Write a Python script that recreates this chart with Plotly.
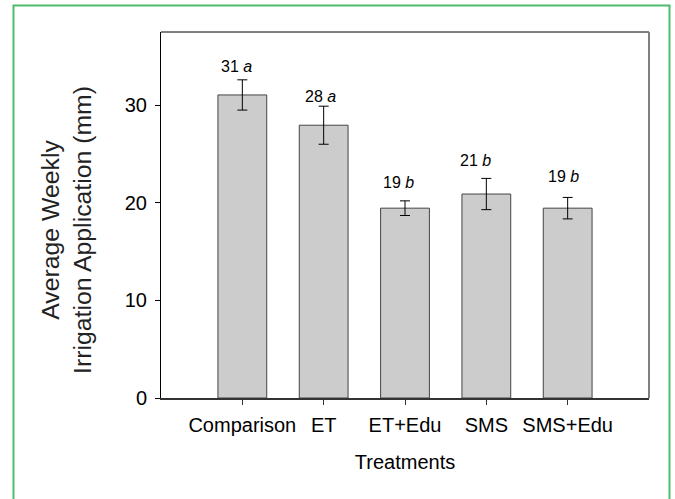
import plotly.graph_objects as go

# ---- data ----
treatments = ["Comparison", "ET", "ET+Edu", "SMS", "SMS+Edu"]
means = [31.05, 27.95, 19.45, 20.9, 19.45]
errors = [1.55, 1.95, 0.75, 1.6, 1.1]
letters = ["a", "a", "b", "b", "b"]
label_y = [34.0, 30.85, 22.07, 24.33, 22.67]
label_dx = [-6, -3, -7, -11, -4]
y_ticks = [0, 10, 20, 30]

W, H = 675, 499
L, R, T, B = 161, 26, 32, 101
pw = W - L - R
ph = H - T - B

FONT = "Liberation Sans, Arial, sans-serif"

fig = go.Figure()
fig.add_trace(go.Bar(
    x=list(range(len(treatments))),
    y=means,
    width=0.6,
    marker=dict(color="#cccccc", line=dict(color="#444444", width=1)),
    error_y=dict(type="data", array=errors, visible=True,
                 color="black", thickness=1, width=5),
    showlegend=False,
))

for i, (m, lt, ly, dx) in enumerate(zip(means, letters, label_y, label_dx)):
    fig.add_annotation(x=i, y=ly, xref="x", yref="y",
                       text=f"{round(m)} <i>{lt}</i>", showarrow=False,
                       xshift=dx, font=dict(family=FONT, size=16, color="black"))

def px_x(p):
    return (p - L) / pw

def px_y(p):
    return (H - B - p) / ph

# green outer border
fig.add_shape(type="rect", xref="paper", yref="paper",
              x0=px_x(13.5), x1=px_x(669.5), y0=px_y(512), y1=px_y(5.5),
              line=dict(color="#4cbb6c", width=2), fillcolor="rgba(0,0,0,0)",
              layer="below")
# top and right frame lines
fig.add_shape(type="line", xref="paper", yref="paper", x0=0, x1=1, y0=1, y1=1,
              line=dict(color="black", width=1))
fig.add_shape(type="line", xref="paper", yref="paper", x0=1, x1=1, y0=0, y1=1,
              line=dict(color="#808080", width=2))

# y axis title as rotated annotation
fig.add_annotation(xref="paper", yref="paper", x=px_x(67), y=px_y(230),
                   text="Average Weekly<br>Irrigation Application (mm)",
                   textangle=-90, showarrow=False, xanchor="center", yanchor="middle",
                   font=dict(family=FONT, size=24.8, color="#222222"))

fig.update_layout(
    width=W, height=H,
    margin=dict(l=L, r=R, t=T, b=B, autoexpand=False),
    paper_bgcolor="white", plot_bgcolor="white",
    font=dict(family=FONT, color="black"),
    xaxis=dict(
        range=[-1, 5], tickmode="array",
        tickvals=list(range(len(treatments))), ticktext=treatments,
        ticks="outside", ticklen=5, tickcolor="#333333", tickwidth=1,
        showline=True, linecolor="#333333", linewidth=2,
        showgrid=False, zeroline=False,
        tickfont=dict(family=FONT, size=20, color="black"),
        ticklabelstandoff=3,
        title=dict(text="Treatments", standoff=20,
                   font=dict(family=FONT, size=20, color="black")),
    ),
    yaxis=dict(
        range=[0, 37.5], tickmode="array", tickvals=y_ticks,
        ticks="outside", ticklen=5, tickcolor="black", tickwidth=1,
        showline=True, linecolor="black", linewidth=1,
        showgrid=False, zeroline=False,
        tickfont=dict(family=FONT, size=20, color="black"),
        ticklabelstandoff=4,
    ),
)

fig.write_html("out.html")
